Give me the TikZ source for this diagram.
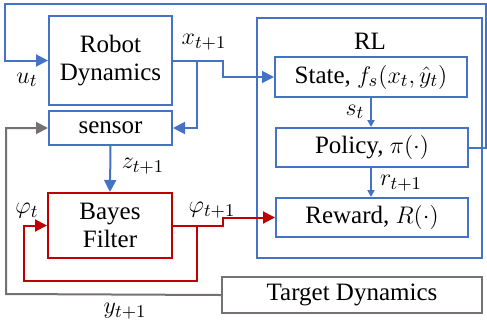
\documentclass[tikz,border=0pt]{standalone}
\usepackage{fontspec}
\setmainfont{Liberation Serif}
\usetikzlibrary{arrows.meta}
\definecolor{rlblue}{HTML}{4472C4}
\definecolor{bfred}{HTML}{C00000}
\definecolor{tdgray}{HTML}{767171}

\begin{document}
\begin{tikzpicture}[x=0.5pt,y=-0.5pt,font=\fontsize{12.5}{14}\selectfont,
  box/.style={draw=rlblue,line width=1pt,align=center,inner sep=0pt},
  bline/.style={rlblue,line width=1pt,-{Triangle[length=6pt,width=6pt]}},
  sline/.style={rlblue,line width=1pt,-{Triangle[length=3.5pt,width=3.5pt]}},
  rline/.style={bfred,line width=1pt,-{Triangle[length=6pt,width=6pt]}},
  gline/.style={tdgray,line width=1pt,-{Triangle[length=6pt,width=6pt]}}]
\useasboundingbox (0,0) rectangle (487,328);

% left column
\node[box,minimum width=61.5pt,minimum height=44.5pt] (robot) at (110.5,60.5) {Robot\\Dynamics};
\node[box,minimum width=61.5pt,minimum height=17pt] (sensor) at (110.5,128) {sensor};
\node[box,draw=bfred,minimum width=62pt,minimum height=32.5pt] (bayes) at (110,225.5) {Bayes\\Filter};

% RL block
\node[box,minimum width=112.5pt,minimum height=120pt] (rl) at (369.5,138) {};
\node (rllabel) at (370,41) {RL};
\node[box,minimum width=96pt,minimum height=20pt] (state) at (371,77) {State, $f_s(x_t,\hat{y}_t)$};
\node[box,minimum width=96pt,minimum height=19.5pt] (policy) at (372,147.5) {Policy, $\pi(\cdot)$};
\node[box,minimum width=96pt,minimum height=19.5pt] (reward) at (372,217.5) {Reward, $R(\cdot)$};

\node[box,draw=tdgray,minimum width=130pt,minimum height=18pt] (target) at (352,295) {Target Dynamics};

% connectors
\draw[bline] (policy.east) -- (486,147.5) |- (5,4) |- (robot.west);
\draw[bline] (robot.east) -- (223,60.5) |- (state.west);
\draw[bline] (197,60.5) |- (sensor.east);
\draw[bline] (sensor.south) -- (bayes.north);
\draw[sline] (state.south -| 371,0) -- (policy.north -| 371,0);
\draw[sline] (policy.south -| 371,0) -- (reward.north -| 371,0);
\draw[rline] (bayes.east) -- (197,225.5) |- (24,281) |- (bayes.west);
\draw[rline] (bayes.east) -- (223,225.5) |- (reward.west);
\draw[gline] (target.west) -- (6,294) |- (sensor.west);

% labels
\node at (27,80) {$u_t$};
\node at (204,42) {$x_{t+1}$};
\node at (143,166) {$z_{t+1}$};
\node at (27,211) {$\varphi_t$};
\node at (212,210) {$\varphi_{t+1}$};
\node at (125,311) {$y_{t+1}$};
\node at (355,112) {$s_t$};
\node at (401,183) {$r_{t+1}$};
\end{tikzpicture}
\end{document}
